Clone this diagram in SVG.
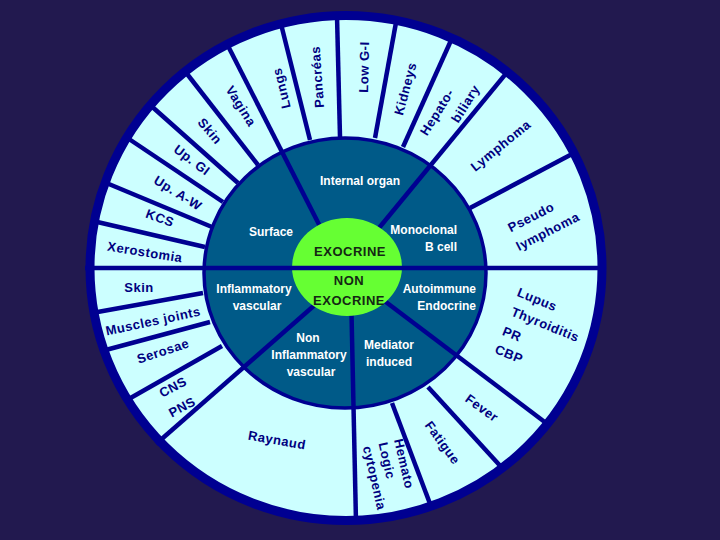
<svg xmlns="http://www.w3.org/2000/svg" width="720" height="540" viewBox="0 0 720 540">
<style>
.sp{stroke:#000091;stroke-width:4.5;stroke-linecap:butt;fill:none}
.o{font-family:"Liberation Sans",Arial,sans-serif;font-weight:bold;font-size:13px;fill:#000080;text-anchor:middle;letter-spacing:0.5px}
.i{font-family:"Liberation Sans",Arial,sans-serif;font-weight:bold;font-size:12px;fill:#ffffff;text-anchor:middle}
.g{font-family:"Liberation Sans",Arial,sans-serif;font-weight:bold;font-size:13px;fill:#142814;text-anchor:middle;letter-spacing:0.5px}
</style>
<rect width="720" height="540" fill="#22194f"/>
<ellipse id="outer-fill" cx="346" cy="268" rx="256" ry="252.5" fill="#ccffff"/>
<g id="connectors">
<line class="sp" x1="205" y1="247" x2="93" y2="221"/>
<line class="sp" x1="212" y1="227" x2="104" y2="182"/>
<line class="sp" x1="223" y1="202" x2="126" y2="137"/>
<line class="sp" x1="238" y1="183" x2="149" y2="104"/>
<line class="sp" x1="258" y1="165" x2="184" y2="70"/>
<line class="sp" x1="310" y1="140" x2="280" y2="20"/>
<line class="sp" x1="340" y1="137" x2="337" y2="16"/>
<line class="sp" x1="375" y1="138" x2="397" y2="17"/>
<line class="sp" x1="403" y1="147" x2="453" y2="36"/>
<line class="sp" x1="470" y1="208" x2="574" y2="153"/>
<line class="sp" x1="203" y1="293" x2="92" y2="313"/>
<line class="sp" x1="210" y1="322" x2="102" y2="351"/>
<line class="sp" x1="222" y1="346" x2="127" y2="400"/>
<line class="sp" x1="428" y1="387" x2="504" y2="470"/>
<line class="sp" x1="392" y1="403" x2="432" y2="509"/>
</g>
<ellipse id="inner-ring" cx="345" cy="273" rx="141" ry="135" fill="#005a88" stroke="#000091" stroke-width="3.5"/>
<g id="connectors-inner">
<line class="sp" x1="330" y1="246" x2="226" y2="42"/>
<line class="sp" x1="365" y1="245" x2="509" y2="70"/>
<line class="sp" x1="370" y1="290" x2="550" y2="426"/>
<line class="sp" x1="351" y1="290" x2="356" y2="522"/>
<line class="sp" x1="325" y1="296" x2="156" y2="444"/>
</g>
<ellipse id="core" cx="347" cy="267" rx="55" ry="49" fill="#66ff33"/>
<line class="sp" x1="85" y1="268" x2="606" y2="268"/>
<ellipse cx="346" cy="268" rx="256" ry="252.5" fill="none" stroke="#000091" stroke-width="9"/>

<g id="core-labels">
<text class="g" x="350" y="256">EXOCRINE</text>
<text class="g" x="349" y="285">NON</text>
<text class="g" x="349" y="305">EXOCRINE</text>
</g>
<g id="inner-labels">
<text class="i" x="360" y="185">Internal organ</text>
<text class="i" x="271" y="236">Surface</text>
<text class="i" x="457" y="234" style="text-anchor:end">Monoclonal</text>
<text class="i" x="457" y="251" style="text-anchor:end">B cell</text>
<text class="i" x="254" y="293">Inflammatory</text>
<text class="i" x="257" y="310">vascular</text>
<text class="i" x="476" y="293" style="text-anchor:end">Autoimmune</text>
<text class="i" x="476" y="310" style="text-anchor:end">Endocrine</text>
<text class="i" x="308" y="342">Non</text>
<text class="i" x="309" y="359">Inflammatory</text>
<text class="i" x="311" y="376">vascular</text>
<text class="i" x="389" y="349">Mediator</text>
<text class="i" x="389" y="366">induced</text>
</g>
<g id="outer-labels">
<text class="o" transform="translate(145,252) rotate(9)" dy="0.35em">Xerostomia</text>
<text class="o" transform="translate(160,218) rotate(20)" dy="0.35em">KCS</text>
<text class="o" transform="translate(178,193) rotate(32)" dy="0.35em">Up. A-W</text>
<text class="o" transform="translate(192,160) rotate(37)" dy="0.35em">Up. GI</text>
<text class="o" transform="translate(210,131) rotate(50)" dy="0.35em">Skin</text>
<text class="o" transform="translate(241,106) rotate(58)" dy="0.35em">Vagina</text>
<text class="o" transform="translate(282,88) rotate(-104)" dy="0.3em">Lungs</text>
<text class="o" transform="translate(318,77) rotate(-94)" dy="0.3em">Pancréas</text>
<text class="o" transform="translate(364,67) rotate(-89)" dy="0.35em">Low G-I</text>
<text class="o" transform="translate(406,89) rotate(-75)" dy="0.3em">Kidneys</text>
<text class="o" transform="translate(437,112) rotate(-58)" dy="0.35em">Hepato-</text>
<text class="o" transform="translate(466,104) rotate(-58)" dy="0.3em">biliary</text>
<text class="o" transform="translate(501,146) rotate(-39)" dy="0.3em">Lymphoma</text>
<text class="o" transform="translate(531,217) rotate(-27)" dy="0.35em">Pseudo</text>
<text class="o" transform="translate(548,232) rotate(-27)" dy="0.3em">lymphoma</text>
<text class="o" transform="translate(537,300) rotate(22)" dy="0.3em">Lupus</text>
<text class="o" transform="translate(545,325) rotate(22)" dy="0.3em">Thyroiditis</text>
<text class="o" transform="translate(512,334) rotate(22)" dy="0.35em">PR</text>
<text class="o" transform="translate(509,354) rotate(22)" dy="0.35em">CBP</text>
<text class="o" transform="translate(482,408) rotate(36)" dy="0.35em">Fever</text>
<text class="o" transform="translate(442,443) rotate(54)" dy="0.3em">Fatigue</text>
<g transform="translate(394,440) rotate(77)">
<text class="o" x="0" y="0" style="text-anchor:start">Hemato</text>
<text class="o" x="0" y="16" style="text-anchor:start">Logic</text>
<text class="o" x="0" y="32" style="text-anchor:start">cytopenia</text>
</g>
<text class="o" transform="translate(277,440) rotate(10)" dy="0.35em">Raynaud</text>
<text class="o" transform="translate(173,387) rotate(-28)" dy="0.35em">CNS</text>
<text class="o" transform="translate(182,407) rotate(-28)" dy="0.35em">PNS</text>
<text class="o" transform="translate(163,351) rotate(-18)" dy="0.35em">Serosae</text>
<text class="o" transform="translate(153,321) rotate(-12)" dy="0.35em">Muscles joints</text>
<text class="o" transform="translate(139,287)" dy="0.35em">Skin</text>
</g>
</svg>
